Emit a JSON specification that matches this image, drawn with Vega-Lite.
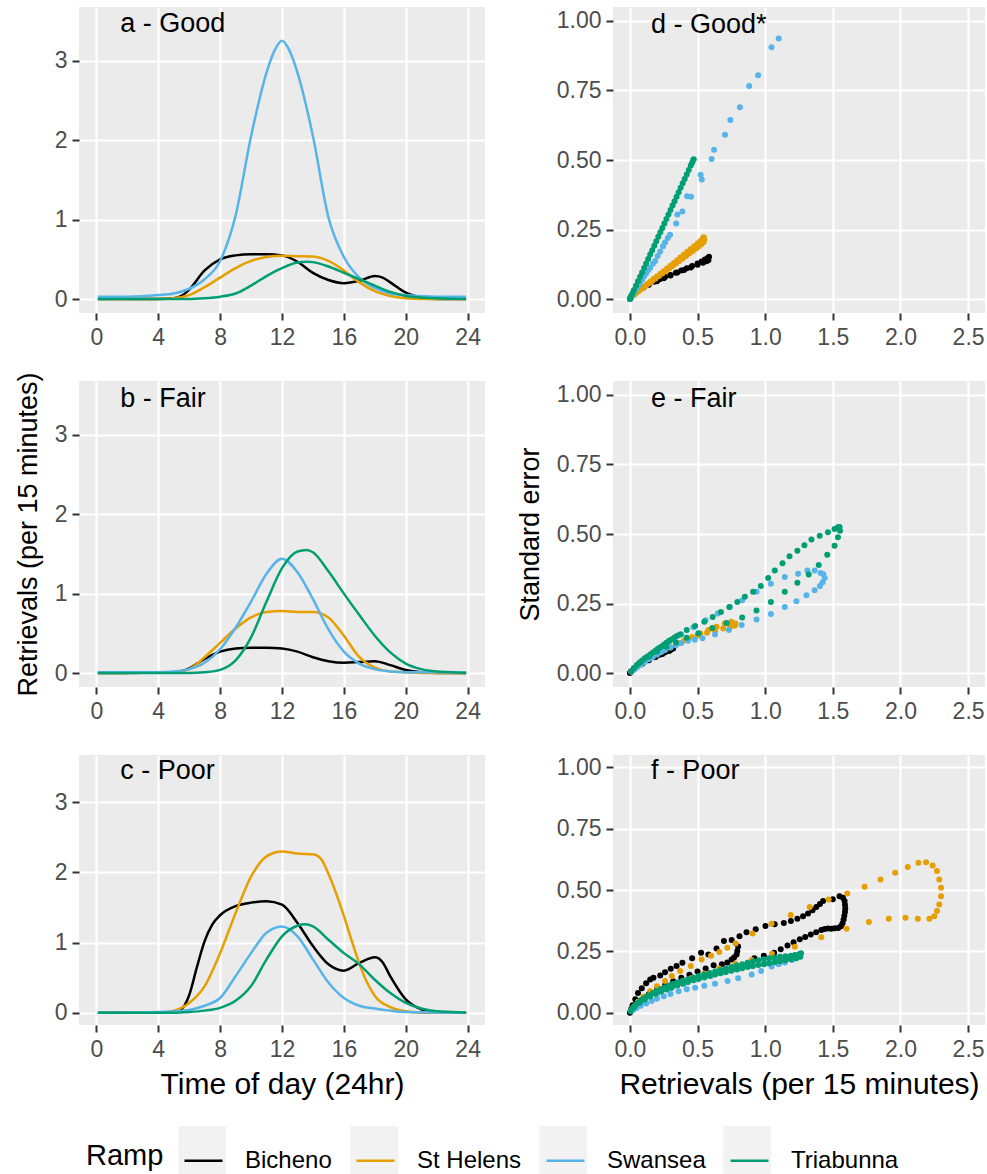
{
  "$schema": "https://vega.github.io/schema/vega-lite/v6.json",
  "padding": {"left": 14, "top": 7, "right": 2, "bottom": 0},
  "bounds": "flush",
  "align": "each",
  "columns": 2,
  "spacing": {"row": 68, "column": 128},
  "resolve": {"scale": {"color": "shared", "fill": "shared", "x": "independent", "y": "independent"}, "legend": {"color": "shared", "fill": "shared"}},
  "config": {
    "font": "Liberation Sans",
    "view": {"fill": "#EBEBEB", "stroke": null},
    "axis": {"domain": false, "tickSize": 7, "tickWidth": 2, "tickColor": "#333333", "labelFont": "Liberation Sans", "labelFontSize": 23, "labelColor": "#4D4D4D", "gridColor": "#FFFFFF", "titleFont": "Liberation Sans", "titleFontWeight": "normal", "titleColor": "#000000", "labelFlush": false, "labelOverlap": false},
    "axisX": {"labelPadding": 6, "titleFontSize": 30, "titlePadding": 8},
    "axisY": {"labelPadding": 5, "titleFontSize": 27, "titlePadding": 12},
    "legend": {"labelFont": "Liberation Sans", "titleFont": "Liberation Sans"}
  },
  "datasets": {
    "lines": [
      {"p":"a","r":"Bicheno","h":0.1,"v":0},{"p":"a","r":"Bicheno","h":3,"v":0},{"p":"a","r":"Bicheno","h":4,"v":0},{"p":"a","r":"Bicheno","h":5,"v":0.01},{"p":"a","r":"Bicheno","h":5.5,"v":0.04},{"p":"a","r":"Bicheno","h":6,"v":0.12},{"p":"a","r":"Bicheno","h":7,"v":0.36},{"p":"a","r":"Bicheno","h":8,"v":0.5},{"p":"a","r":"Bicheno","h":9,"v":0.55},{"p":"a","r":"Bicheno","h":10,"v":0.565},{"p":"a","r":"Bicheno","h":11,"v":0.565},{"p":"a","r":"Bicheno","h":12,"v":0.55},{"p":"a","r":"Bicheno","h":13,"v":0.47},{"p":"a","r":"Bicheno","h":14,"v":0.33},{"p":"a","r":"Bicheno","h":15,"v":0.24},{"p":"a","r":"Bicheno","h":16,"v":0.2},{"p":"a","r":"Bicheno","h":17,"v":0.23},{"p":"a","r":"Bicheno","h":18,"v":0.29},{"p":"a","r":"Bicheno","h":18.5,"v":0.27},{"p":"a","r":"Bicheno","h":19,"v":0.21},{"p":"a","r":"Bicheno","h":20,"v":0.08},{"p":"a","r":"Bicheno","h":21,"v":0.02},{"p":"a","r":"Bicheno","h":22,"v":0},{"p":"a","r":"Bicheno","h":23.9,"v":0},
      {"p":"a","r":"St Helens","h":0.1,"v":0},{"p":"a","r":"St Helens","h":4,"v":0},{"p":"a","r":"St Helens","h":5,"v":0.01},{"p":"a","r":"St Helens","h":6,"v":0.05},{"p":"a","r":"St Helens","h":7,"v":0.15},{"p":"a","r":"St Helens","h":8,"v":0.27},{"p":"a","r":"St Helens","h":9,"v":0.39},{"p":"a","r":"St Helens","h":10,"v":0.48},{"p":"a","r":"St Helens","h":11,"v":0.53},{"p":"a","r":"St Helens","h":12,"v":0.545},{"p":"a","r":"St Helens","h":13,"v":0.54},{"p":"a","r":"St Helens","h":14,"v":0.535},{"p":"a","r":"St Helens","h":15,"v":0.48},{"p":"a","r":"St Helens","h":16,"v":0.36},{"p":"a","r":"St Helens","h":17,"v":0.21},{"p":"a","r":"St Helens","h":18,"v":0.1},{"p":"a","r":"St Helens","h":19,"v":0.04},{"p":"a","r":"St Helens","h":20,"v":0.01},{"p":"a","r":"St Helens","h":21,"v":0},{"p":"a","r":"St Helens","h":23.9,"v":0},
      {"p":"a","r":"Swansea","h":0.1,"v":0.03},{"p":"a","r":"Swansea","h":2,"v":0.03},{"p":"a","r":"Swansea","h":4,"v":0.05},{"p":"a","r":"Swansea","h":5,"v":0.07},{"p":"a","r":"Swansea","h":6,"v":0.13},{"p":"a","r":"Swansea","h":7,"v":0.25},{"p":"a","r":"Swansea","h":8,"v":0.48},{"p":"a","r":"Swansea","h":9,"v":1.05},{"p":"a","r":"Swansea","h":10,"v":2.05},{"p":"a","r":"Swansea","h":11,"v":2.85},{"p":"a","r":"Swansea","h":11.5,"v":3.12},{"p":"a","r":"Swansea","h":12,"v":3.25},{"p":"a","r":"Swansea","h":12.5,"v":3.12},{"p":"a","r":"Swansea","h":13,"v":2.85},{"p":"a","r":"Swansea","h":14,"v":2.05},{"p":"a","r":"Swansea","h":15,"v":1.03},{"p":"a","r":"Swansea","h":16,"v":0.53},{"p":"a","r":"Swansea","h":17,"v":0.27},{"p":"a","r":"Swansea","h":18,"v":0.14},{"p":"a","r":"Swansea","h":19,"v":0.07},{"p":"a","r":"Swansea","h":20,"v":0.05},{"p":"a","r":"Swansea","h":22,"v":0.03},{"p":"a","r":"Swansea","h":23.9,"v":0.03},
      {"p":"a","r":"Triabunna","h":0.1,"v":0},{"p":"a","r":"Triabunna","h":6,"v":0},{"p":"a","r":"Triabunna","h":7,"v":0.01},{"p":"a","r":"Triabunna","h":8,"v":0.03},{"p":"a","r":"Triabunna","h":9,"v":0.07},{"p":"a","r":"Triabunna","h":10,"v":0.17},{"p":"a","r":"Triabunna","h":11,"v":0.29},{"p":"a","r":"Triabunna","h":12,"v":0.39},{"p":"a","r":"Triabunna","h":13,"v":0.46},{"p":"a","r":"Triabunna","h":13.6,"v":0.47},{"p":"a","r":"Triabunna","h":14,"v":0.465},{"p":"a","r":"Triabunna","h":15,"v":0.41},{"p":"a","r":"Triabunna","h":16,"v":0.33},{"p":"a","r":"Triabunna","h":17,"v":0.25},{"p":"a","r":"Triabunna","h":18,"v":0.17},{"p":"a","r":"Triabunna","h":19,"v":0.09},{"p":"a","r":"Triabunna","h":20,"v":0.04},{"p":"a","r":"Triabunna","h":21,"v":0.02},{"p":"a","r":"Triabunna","h":22,"v":0.01},{"p":"a","r":"Triabunna","h":23.9,"v":0},

      {"p":"b","r":"Bicheno","h":0.1,"v":0},{"p":"b","r":"Bicheno","h":5,"v":0.01},{"p":"b","r":"Bicheno","h":6,"v":0.06},{"p":"b","r":"Bicheno","h":7,"v":0.18},{"p":"b","r":"Bicheno","h":8,"v":0.27},{"p":"b","r":"Bicheno","h":9,"v":0.31},{"p":"b","r":"Bicheno","h":10,"v":0.32},{"p":"b","r":"Bicheno","h":11,"v":0.32},{"p":"b","r":"Bicheno","h":12,"v":0.31},{"p":"b","r":"Bicheno","h":13,"v":0.27},{"p":"b","r":"Bicheno","h":14,"v":0.2},{"p":"b","r":"Bicheno","h":15,"v":0.15},{"p":"b","r":"Bicheno","h":16,"v":0.13},{"p":"b","r":"Bicheno","h":17,"v":0.14},{"p":"b","r":"Bicheno","h":18,"v":0.15},{"p":"b","r":"Bicheno","h":19,"v":0.1},{"p":"b","r":"Bicheno","h":20,"v":0.04},{"p":"b","r":"Bicheno","h":21,"v":0.01},{"p":"b","r":"Bicheno","h":22,"v":0},{"p":"b","r":"Bicheno","h":23.9,"v":0},
      {"p":"b","r":"St Helens","h":0.1,"v":0},{"p":"b","r":"St Helens","h":5,"v":0.01},{"p":"b","r":"St Helens","h":6,"v":0.05},{"p":"b","r":"St Helens","h":7,"v":0.2},{"p":"b","r":"St Helens","h":8,"v":0.38},{"p":"b","r":"St Helens","h":9,"v":0.56},{"p":"b","r":"St Helens","h":10,"v":0.7},{"p":"b","r":"St Helens","h":11,"v":0.77},{"p":"b","r":"St Helens","h":12,"v":0.78},{"p":"b","r":"St Helens","h":13,"v":0.77},{"p":"b","r":"St Helens","h":14,"v":0.77},{"p":"b","r":"St Helens","h":15,"v":0.7},{"p":"b","r":"St Helens","h":16,"v":0.47},{"p":"b","r":"St Helens","h":17,"v":0.2},{"p":"b","r":"St Helens","h":18,"v":0.07},{"p":"b","r":"St Helens","h":19,"v":0.02},{"p":"b","r":"St Helens","h":20,"v":0.01},{"p":"b","r":"St Helens","h":21,"v":0},{"p":"b","r":"St Helens","h":23.9,"v":0},
      {"p":"b","r":"Swansea","h":0.1,"v":0.01},{"p":"b","r":"Swansea","h":4,"v":0.01},{"p":"b","r":"Swansea","h":5,"v":0.02},{"p":"b","r":"Swansea","h":6,"v":0.05},{"p":"b","r":"Swansea","h":7,"v":0.13},{"p":"b","r":"Swansea","h":8,"v":0.3},{"p":"b","r":"Swansea","h":9,"v":0.57},{"p":"b","r":"Swansea","h":10,"v":0.9},{"p":"b","r":"Swansea","h":11,"v":1.25},{"p":"b","r":"Swansea","h":12,"v":1.44},{"p":"b","r":"Swansea","h":13,"v":1.27},{"p":"b","r":"Swansea","h":14,"v":0.93},{"p":"b","r":"Swansea","h":15,"v":0.55},{"p":"b","r":"Swansea","h":16,"v":0.27},{"p":"b","r":"Swansea","h":17,"v":0.12},{"p":"b","r":"Swansea","h":18,"v":0.05},{"p":"b","r":"Swansea","h":19,"v":0.02},{"p":"b","r":"Swansea","h":20,"v":0.01},{"p":"b","r":"Swansea","h":23.9,"v":0.01},
      {"p":"b","r":"Triabunna","h":0.1,"v":0},{"p":"b","r":"Triabunna","h":6,"v":0},{"p":"b","r":"Triabunna","h":7,"v":0.01},{"p":"b","r":"Triabunna","h":8,"v":0.04},{"p":"b","r":"Triabunna","h":9,"v":0.16},{"p":"b","r":"Triabunna","h":10,"v":0.45},{"p":"b","r":"Triabunna","h":11,"v":0.9},{"p":"b","r":"Triabunna","h":12,"v":1.32},{"p":"b","r":"Triabunna","h":13,"v":1.53},{"p":"b","r":"Triabunna","h":13.6,"v":1.55},{"p":"b","r":"Triabunna","h":14,"v":1.52},{"p":"b","r":"Triabunna","h":15,"v":1.28},{"p":"b","r":"Triabunna","h":16,"v":1.0},{"p":"b","r":"Triabunna","h":17,"v":0.73},{"p":"b","r":"Triabunna","h":18,"v":0.47},{"p":"b","r":"Triabunna","h":19,"v":0.26},{"p":"b","r":"Triabunna","h":20,"v":0.12},{"p":"b","r":"Triabunna","h":21,"v":0.05},{"p":"b","r":"Triabunna","h":22,"v":0.02},{"p":"b","r":"Triabunna","h":23,"v":0.01},{"p":"b","r":"Triabunna","h":23.9,"v":0},

      {"p":"c","r":"Bicheno","h":0.1,"v":0},{"p":"c","r":"Bicheno","h":4,"v":0},{"p":"c","r":"Bicheno","h":5,"v":0.01},{"p":"c","r":"Bicheno","h":5.5,"v":0.05},{"p":"c","r":"Bicheno","h":6,"v":0.25},{"p":"c","r":"Bicheno","h":6.5,"v":0.65},{"p":"c","r":"Bicheno","h":7,"v":1.02},{"p":"c","r":"Bicheno","h":7.5,"v":1.26},{"p":"c","r":"Bicheno","h":8,"v":1.39},{"p":"c","r":"Bicheno","h":9,"v":1.52},{"p":"c","r":"Bicheno","h":10,"v":1.57},{"p":"c","r":"Bicheno","h":11,"v":1.59},{"p":"c","r":"Bicheno","h":12,"v":1.54},{"p":"c","r":"Bicheno","h":13,"v":1.28},{"p":"c","r":"Bicheno","h":14,"v":0.95},{"p":"c","r":"Bicheno","h":15,"v":0.69},{"p":"c","r":"Bicheno","h":16,"v":0.6},{"p":"c","r":"Bicheno","h":17,"v":0.71},{"p":"c","r":"Bicheno","h":18,"v":0.79},{"p":"c","r":"Bicheno","h":18.5,"v":0.72},{"p":"c","r":"Bicheno","h":19,"v":0.52},{"p":"c","r":"Bicheno","h":20,"v":0.19},{"p":"c","r":"Bicheno","h":21,"v":0.05},{"p":"c","r":"Bicheno","h":22,"v":0.01},{"p":"c","r":"Bicheno","h":23.9,"v":0},
      {"p":"c","r":"St Helens","h":0.1,"v":0},{"p":"c","r":"St Helens","h":4,"v":0},{"p":"c","r":"St Helens","h":5,"v":0.03},{"p":"c","r":"St Helens","h":6,"v":0.14},{"p":"c","r":"St Helens","h":7,"v":0.38},{"p":"c","r":"St Helens","h":8,"v":0.85},{"p":"c","r":"St Helens","h":9,"v":1.42},{"p":"c","r":"St Helens","h":10,"v":1.94},{"p":"c","r":"St Helens","h":11,"v":2.23},{"p":"c","r":"St Helens","h":12,"v":2.3},{"p":"c","r":"St Helens","h":13,"v":2.27},{"p":"c","r":"St Helens","h":14,"v":2.26},{"p":"c","r":"St Helens","h":14.5,"v":2.2},{"p":"c","r":"St Helens","h":15,"v":1.98},{"p":"c","r":"St Helens","h":15.5,"v":1.7},{"p":"c","r":"St Helens","h":16,"v":1.38},{"p":"c","r":"St Helens","h":16.5,"v":1.03},{"p":"c","r":"St Helens","h":17,"v":0.7},{"p":"c","r":"St Helens","h":17.5,"v":0.43},{"p":"c","r":"St Helens","h":18,"v":0.24},{"p":"c","r":"St Helens","h":19,"v":0.08},{"p":"c","r":"St Helens","h":20,"v":0.02},{"p":"c","r":"St Helens","h":21,"v":0},{"p":"c","r":"St Helens","h":23.9,"v":0},
      {"p":"c","r":"Swansea","h":0.1,"v":0},{"p":"c","r":"Swansea","h":4,"v":0.01},{"p":"c","r":"Swansea","h":5,"v":0.02},{"p":"c","r":"Swansea","h":6,"v":0.04},{"p":"c","r":"Swansea","h":7,"v":0.1},{"p":"c","r":"Swansea","h":8,"v":0.21},{"p":"c","r":"Swansea","h":9,"v":0.52},{"p":"c","r":"Swansea","h":10,"v":0.85},{"p":"c","r":"Swansea","h":11,"v":1.14},{"p":"c","r":"Swansea","h":12,"v":1.23},{"p":"c","r":"Swansea","h":13,"v":1.09},{"p":"c","r":"Swansea","h":14,"v":0.76},{"p":"c","r":"Swansea","h":15,"v":0.43},{"p":"c","r":"Swansea","h":16,"v":0.21},{"p":"c","r":"Swansea","h":17,"v":0.1},{"p":"c","r":"Swansea","h":18,"v":0.06},{"p":"c","r":"Swansea","h":19,"v":0.03},{"p":"c","r":"Swansea","h":20,"v":0.01},{"p":"c","r":"Swansea","h":23.9,"v":0},
      {"p":"c","r":"Triabunna","h":0.1,"v":0},{"p":"c","r":"Triabunna","h":5,"v":0},{"p":"c","r":"Triabunna","h":6,"v":0.01},{"p":"c","r":"Triabunna","h":7,"v":0.03},{"p":"c","r":"Triabunna","h":8,"v":0.07},{"p":"c","r":"Triabunna","h":9,"v":0.17},{"p":"c","r":"Triabunna","h":10,"v":0.38},{"p":"c","r":"Triabunna","h":11,"v":0.76},{"p":"c","r":"Triabunna","h":12,"v":1.09},{"p":"c","r":"Triabunna","h":13,"v":1.24},{"p":"c","r":"Triabunna","h":13.5,"v":1.26},{"p":"c","r":"Triabunna","h":14,"v":1.23},{"p":"c","r":"Triabunna","h":15,"v":1.04},{"p":"c","r":"Triabunna","h":16,"v":0.85},{"p":"c","r":"Triabunna","h":17,"v":0.69},{"p":"c","r":"Triabunna","h":18,"v":0.47},{"p":"c","r":"Triabunna","h":19,"v":0.28},{"p":"c","r":"Triabunna","h":20,"v":0.14},{"p":"c","r":"Triabunna","h":21,"v":0.06},{"p":"c","r":"Triabunna","h":22,"v":0.02},{"p":"c","r":"Triabunna","h":23,"v":0.01},{"p":"c","r":"Triabunna","h":23.9,"v":0}
    ],
    "pts": [
      {"p":"d","r":"Bicheno","x":0,"y":0},{"p":"d","r":"Bicheno","x":0.01,"y":0.008},{"p":"d","r":"Bicheno","x":0.03,"y":0.018},{"p":"d","r":"Bicheno","x":0.06,"y":0.03},{"p":"d","r":"Bicheno","x":0.1,"y":0.042},{"p":"d","r":"Bicheno","x":0.14,"y":0.052},{"p":"d","r":"Bicheno","x":0.18,"y":0.062},{"p":"d","r":"Bicheno","x":0.22,"y":0.071},{"p":"d","r":"Bicheno","x":0.26,"y":0.079},{"p":"d","r":"Bicheno","x":0.3,"y":0.087},{"p":"d","r":"Bicheno","x":0.34,"y":0.095},{"p":"d","r":"Bicheno","x":0.38,"y":0.103},{"p":"d","r":"Bicheno","x":0.42,"y":0.111},{"p":"d","r":"Bicheno","x":0.46,"y":0.119},{"p":"d","r":"Bicheno","x":0.5,"y":0.128},{"p":"d","r":"Bicheno","x":0.53,"y":0.135},{"p":"d","r":"Bicheno","x":0.555,"y":0.142},{"p":"d","r":"Bicheno","x":0.575,"y":0.148},{"p":"d","r":"Bicheno","x":0.585,"y":0.152},{"p":"d","r":"Bicheno","x":0.58,"y":0.14},{"p":"d","r":"Bicheno","x":0.565,"y":0.136},{"p":"d","r":"Bicheno","x":0.54,"y":0.131},{"p":"d","r":"Bicheno","x":0.5,"y":0.123},{"p":"d","r":"Bicheno","x":0.45,"y":0.114},{"p":"d","r":"Bicheno","x":0.4,"y":0.105},{"p":"d","r":"Bicheno","x":0.35,"y":0.096},{"p":"d","r":"Bicheno","x":0.3,"y":0.085},{"p":"d","r":"Bicheno","x":0.25,"y":0.075},{"p":"d","r":"Bicheno","x":0.2,"y":0.064},
      {"p":"d","r":"St Helens","x":0.01,"y":0.006},{"p":"d","r":"St Helens","x":0.03,"y":0.015},{"p":"d","r":"St Helens","x":0.05,"y":0.024},{"p":"d","r":"St Helens","x":0.075,"y":0.034},{"p":"d","r":"St Helens","x":0.1,"y":0.043},{"p":"d","r":"St Helens","x":0.125,"y":0.053},{"p":"d","r":"St Helens","x":0.15,"y":0.062},{"p":"d","r":"St Helens","x":0.175,"y":0.072},{"p":"d","r":"St Helens","x":0.2,"y":0.081},{"p":"d","r":"St Helens","x":0.225,"y":0.091},{"p":"d","r":"St Helens","x":0.25,"y":0.1},{"p":"d","r":"St Helens","x":0.275,"y":0.11},{"p":"d","r":"St Helens","x":0.3,"y":0.12},{"p":"d","r":"St Helens","x":0.325,"y":0.13},{"p":"d","r":"St Helens","x":0.35,"y":0.14},{"p":"d","r":"St Helens","x":0.375,"y":0.15},{"p":"d","r":"St Helens","x":0.4,"y":0.16},{"p":"d","r":"St Helens","x":0.425,"y":0.17},{"p":"d","r":"St Helens","x":0.45,"y":0.18},{"p":"d","r":"St Helens","x":0.475,"y":0.19},{"p":"d","r":"St Helens","x":0.5,"y":0.2},{"p":"d","r":"St Helens","x":0.52,"y":0.208},{"p":"d","r":"St Helens","x":0.535,"y":0.215},{"p":"d","r":"St Helens","x":0.545,"y":0.222},{"p":"d","r":"St Helens","x":0.55,"y":0.215},{"p":"d","r":"St Helens","x":0.545,"y":0.205},{"p":"d","r":"St Helens","x":0.53,"y":0.198},{"p":"d","r":"St Helens","x":0.51,"y":0.19},{"p":"d","r":"St Helens","x":0.49,"y":0.182},{"p":"d","r":"St Helens","x":0.465,"y":0.173},{"p":"d","r":"St Helens","x":0.44,"y":0.164},{"p":"d","r":"St Helens","x":0.415,"y":0.155},{"p":"d","r":"St Helens","x":0.39,"y":0.146},{"p":"d","r":"St Helens","x":0.365,"y":0.137},{"p":"d","r":"St Helens","x":0.34,"y":0.128},{"p":"d","r":"St Helens","x":0.315,"y":0.119},{"p":"d","r":"St Helens","x":0.29,"y":0.11},{"p":"d","r":"St Helens","x":0.265,"y":0.101},{"p":"d","r":"St Helens","x":0.24,"y":0.092},{"p":"d","r":"St Helens","x":0.215,"y":0.083},{"p":"d","r":"St Helens","x":0.19,"y":0.074},{"p":"d","r":"St Helens","x":0.165,"y":0.065},{"p":"d","r":"St Helens","x":0.14,"y":0.056},{"p":"d","r":"St Helens","x":0.115,"y":0.047},{"p":"d","r":"St Helens","x":0.09,"y":0.038},{"p":"d","r":"St Helens","x":0.065,"y":0.029},{"p":"d","r":"St Helens","x":0.04,"y":0.02},
      {"p":"d","r":"Swansea","x":0,"y":0},{"p":"d","r":"Swansea","x":0.01,"y":0.008},{"p":"d","r":"Swansea","x":0.02,"y":0.016},{"p":"d","r":"Swansea","x":0.03,"y":0.024},{"p":"d","r":"Swansea","x":0.04,"y":0.032},{"p":"d","r":"Swansea","x":0.05,"y":0.04},{"p":"d","r":"Swansea","x":0.06,"y":0.048},{"p":"d","r":"Swansea","x":0.075,"y":0.058},{"p":"d","r":"Swansea","x":0.09,"y":0.07},{"p":"d","r":"Swansea","x":0.105,"y":0.082},{"p":"d","r":"Swansea","x":0.12,"y":0.093},{"p":"d","r":"Swansea","x":0.135,"y":0.104},{"p":"d","r":"Swansea","x":0.15,"y":0.113},{"p":"d","r":"Swansea","x":0.17,"y":0.127},{"p":"d","r":"Swansea","x":0.187,"y":0.137},{"p":"d","r":"Swansea","x":0.205,"y":0.155},{"p":"d","r":"Swansea","x":0.224,"y":0.171},{"p":"d","r":"Swansea","x":0.245,"y":0.19},{"p":"d","r":"Swansea","x":0.26,"y":0.203},{"p":"d","r":"Swansea","x":0.28,"y":0.22},{"p":"d","r":"Swansea","x":0.297,"y":0.231},{"p":"d","r":"Swansea","x":0.342,"y":0.272},{"p":"d","r":"Swansea","x":0.351,"y":0.304},{"p":"d","r":"Swansea","x":0.388,"y":0.315},{"p":"d","r":"Swansea","x":0.423,"y":0.37},{"p":"d","r":"Swansea","x":0.452,"y":0.368},{"p":"d","r":"Swansea","x":0.523,"y":0.447},{"p":"d","r":"Swansea","x":0.531,"y":0.43},{"p":"d","r":"Swansea","x":0.604,"y":0.504},{"p":"d","r":"Swansea","x":0.622,"y":0.537},{"p":"d","r":"Swansea","x":0.703,"y":0.591},{"p":"d","r":"Swansea","x":0.742,"y":0.644},{"p":"d","r":"Swansea","x":0.813,"y":0.69},{"p":"d","r":"Swansea","x":0.882,"y":0.766},{"p":"d","r":"Swansea","x":0.948,"y":0.805},{"p":"d","r":"Swansea","x":1.047,"y":0.905},{"p":"d","r":"Swansea","x":1.1,"y":0.937},
      {"p":"d","r":"Triabunna","x":0,"y":0},{"p":"d","r":"Triabunna","x":0.005,"y":0.006},{"p":"d","r":"Triabunna","x":0.01,"y":0.012},{"p":"d","r":"Triabunna","x":0.02,"y":0.022},{"p":"d","r":"Triabunna","x":0.03,"y":0.033},{"p":"d","r":"Triabunna","x":0.045,"y":0.048},{"p":"d","r":"Triabunna","x":0.06,"y":0.064},{"p":"d","r":"Triabunna","x":0.075,"y":0.08},{"p":"d","r":"Triabunna","x":0.09,"y":0.096},{"p":"d","r":"Triabunna","x":0.105,"y":0.112},{"p":"d","r":"Triabunna","x":0.12,"y":0.128},{"p":"d","r":"Triabunna","x":0.135,"y":0.144},{"p":"d","r":"Triabunna","x":0.15,"y":0.16},{"p":"d","r":"Triabunna","x":0.165,"y":0.176},{"p":"d","r":"Triabunna","x":0.18,"y":0.192},{"p":"d","r":"Triabunna","x":0.195,"y":0.208},{"p":"d","r":"Triabunna","x":0.21,"y":0.224},{"p":"d","r":"Triabunna","x":0.225,"y":0.24},{"p":"d","r":"Triabunna","x":0.24,"y":0.256},{"p":"d","r":"Triabunna","x":0.255,"y":0.272},{"p":"d","r":"Triabunna","x":0.27,"y":0.288},{"p":"d","r":"Triabunna","x":0.285,"y":0.304},{"p":"d","r":"Triabunna","x":0.3,"y":0.32},{"p":"d","r":"Triabunna","x":0.315,"y":0.336},{"p":"d","r":"Triabunna","x":0.33,"y":0.352},{"p":"d","r":"Triabunna","x":0.345,"y":0.368},{"p":"d","r":"Triabunna","x":0.36,"y":0.384},{"p":"d","r":"Triabunna","x":0.375,"y":0.4},{"p":"d","r":"Triabunna","x":0.39,"y":0.416},{"p":"d","r":"Triabunna","x":0.405,"y":0.432},{"p":"d","r":"Triabunna","x":0.42,"y":0.448},{"p":"d","r":"Triabunna","x":0.435,"y":0.464},{"p":"d","r":"Triabunna","x":0.45,"y":0.48},{"p":"d","r":"Triabunna","x":0.46,"y":0.49},{"p":"d","r":"Triabunna","x":0.468,"y":0.5},{"p":"d","r":"Triabunna","x":0.472,"y":0.503},

      {"p":"e","r":"Bicheno","x":0,"y":0},{"p":"e","r":"Bicheno","x":0.01,"y":0.007},{"p":"e","r":"Bicheno","x":0.03,"y":0.016},{"p":"e","r":"Bicheno","x":0.06,"y":0.027},{"p":"e","r":"Bicheno","x":0.1,"y":0.038},{"p":"e","r":"Bicheno","x":0.14,"y":0.048},{"p":"e","r":"Bicheno","x":0.18,"y":0.057},{"p":"e","r":"Bicheno","x":0.22,"y":0.066},{"p":"e","r":"Bicheno","x":0.26,"y":0.075},{"p":"e","r":"Bicheno","x":0.3,"y":0.083},{"p":"e","r":"Bicheno","x":0.32,"y":0.088},{"p":"e","r":"Bicheno","x":0.29,"y":0.079},{"p":"e","r":"Bicheno","x":0.24,"y":0.069},{"p":"e","r":"Bicheno","x":0.19,"y":0.058},{"p":"e","r":"Bicheno","x":0.14,"y":0.046},{"p":"e","r":"Bicheno","x":0.09,"y":0.034},{"p":"e","r":"Bicheno","x":0.05,"y":0.022},
      {"p":"e","r":"St Helens","x":0.01,"y":0.006},{"p":"e","r":"St Helens","x":0.03,"y":0.014},{"p":"e","r":"St Helens","x":0.06,"y":0.026},{"p":"e","r":"St Helens","x":0.1,"y":0.039},{"p":"e","r":"St Helens","x":0.15,"y":0.054},{"p":"e","r":"St Helens","x":0.2,"y":0.068},{"p":"e","r":"St Helens","x":0.25,"y":0.081},{"p":"e","r":"St Helens","x":0.3,"y":0.093},{"p":"e","r":"St Helens","x":0.35,"y":0.105},{"p":"e","r":"St Helens","x":0.4,"y":0.117},{"p":"e","r":"St Helens","x":0.46,"y":0.13},{"p":"e","r":"St Helens","x":0.52,"y":0.142},{"p":"e","r":"St Helens","x":0.58,"y":0.155},{"p":"e","r":"St Helens","x":0.64,"y":0.167},{"p":"e","r":"St Helens","x":0.7,"y":0.178},{"p":"e","r":"St Helens","x":0.75,"y":0.185},{"p":"e","r":"St Helens","x":0.78,"y":0.178},{"p":"e","r":"St Helens","x":0.775,"y":0.17},{"p":"e","r":"St Helens","x":0.74,"y":0.166},{"p":"e","r":"St Helens","x":0.69,"y":0.16},{"p":"e","r":"St Helens","x":0.63,"y":0.152},{"p":"e","r":"St Helens","x":0.57,"y":0.145},{"p":"e","r":"St Helens","x":0.5,"y":0.135},{"p":"e","r":"St Helens","x":0.43,"y":0.122},{"p":"e","r":"St Helens","x":0.36,"y":0.108},{"p":"e","r":"St Helens","x":0.29,"y":0.092},{"p":"e","r":"St Helens","x":0.22,"y":0.074},{"p":"e","r":"St Helens","x":0.15,"y":0.055},{"p":"e","r":"St Helens","x":0.08,"y":0.033},
      {"p":"e","r":"Swansea","x":0.01,"y":0.005},{"p":"e","r":"Swansea","x":0.03,"y":0.012},{"p":"e","r":"Swansea","x":0.05,"y":0.02},{"p":"e","r":"Swansea","x":0.08,"y":0.03},{"p":"e","r":"Swansea","x":0.11,"y":0.04},{"p":"e","r":"Swansea","x":0.14,"y":0.05},{"p":"e","r":"Swansea","x":0.17,"y":0.058},{"p":"e","r":"Swansea","x":0.2,"y":0.067},{"p":"e","r":"Swansea","x":0.23,"y":0.075},{"p":"e","r":"Swansea","x":0.26,"y":0.083},{"p":"e","r":"Swansea","x":0.3,"y":0.092},{"p":"e","r":"Swansea","x":0.34,"y":0.1},{"p":"e","r":"Swansea","x":0.38,"y":0.108},{"p":"e","r":"Swansea","x":0.43,"y":0.116},{"p":"e","r":"Swansea","x":0.48,"y":0.12},{"p":"e","r":"Swansea","x":0.536,"y":0.125},{"p":"e","r":"Swansea","x":0.629,"y":0.139},{"p":"e","r":"Swansea","x":0.732,"y":0.155},{"p":"e","r":"Swansea","x":0.826,"y":0.173},{"p":"e","r":"Swansea","x":0.936,"y":0.193},{"p":"e","r":"Swansea","x":1.042,"y":0.212},{"p":"e","r":"Swansea","x":1.145,"y":0.238},{"p":"e","r":"Swansea","x":1.231,"y":0.258},{"p":"e","r":"Swansea","x":1.305,"y":0.28},{"p":"e","r":"Swansea","x":1.366,"y":0.298},{"p":"e","r":"Swansea","x":1.405,"y":0.313},{"p":"e","r":"Swansea","x":1.425,"y":0.327},{"p":"e","r":"Swansea","x":1.44,"y":0.342},{"p":"e","r":"Swansea","x":1.43,"y":0.355},{"p":"e","r":"Swansea","x":1.41,"y":0.36},{"p":"e","r":"Swansea","x":1.366,"y":0.369},{"p":"e","r":"Swansea","x":1.312,"y":0.369},{"p":"e","r":"Swansea","x":1.243,"y":0.357},{"p":"e","r":"Swansea","x":1.145,"y":0.345},{"p":"e","r":"Swansea","x":1.042,"y":0.321},{"p":"e","r":"Swansea","x":0.936,"y":0.292},{"p":"e","r":"Swansea","x":0.83,"y":0.262},{"p":"e","r":"Swansea","x":0.74,"y":0.238},{"p":"e","r":"Swansea","x":0.65,"y":0.214},{"p":"e","r":"Swansea","x":0.56,"y":0.19},{"p":"e","r":"Swansea","x":0.47,"y":0.165},{"p":"e","r":"Swansea","x":0.38,"y":0.14},{"p":"e","r":"Swansea","x":0.29,"y":0.113},{"p":"e","r":"Swansea","x":0.2,"y":0.085},{"p":"e","r":"Swansea","x":0.12,"y":0.056},{"p":"e","r":"Swansea","x":0.06,"y":0.032},
      {"p":"e","r":"Triabunna","x":0.01,"y":0.007},{"p":"e","r":"Triabunna","x":0.03,"y":0.018},{"p":"e","r":"Triabunna","x":0.05,"y":0.028},{"p":"e","r":"Triabunna","x":0.07,"y":0.037},{"p":"e","r":"Triabunna","x":0.09,"y":0.045},{"p":"e","r":"Triabunna","x":0.11,"y":0.053},{"p":"e","r":"Triabunna","x":0.13,"y":0.06},{"p":"e","r":"Triabunna","x":0.15,"y":0.067},{"p":"e","r":"Triabunna","x":0.17,"y":0.074},{"p":"e","r":"Triabunna","x":0.19,"y":0.081},{"p":"e","r":"Triabunna","x":0.21,"y":0.088},{"p":"e","r":"Triabunna","x":0.23,"y":0.095},{"p":"e","r":"Triabunna","x":0.25,"y":0.102},{"p":"e","r":"Triabunna","x":0.27,"y":0.109},{"p":"e","r":"Triabunna","x":0.29,"y":0.116},{"p":"e","r":"Triabunna","x":0.31,"y":0.122},{"p":"e","r":"Triabunna","x":0.33,"y":0.128},{"p":"e","r":"Triabunna","x":0.35,"y":0.134},{"p":"e","r":"Triabunna","x":0.371,"y":0.139},{"p":"e","r":"Triabunna","x":0.42,"y":0.155},{"p":"e","r":"Triabunna","x":0.482,"y":0.169},{"p":"e","r":"Triabunna","x":0.55,"y":0.185},{"p":"e","r":"Triabunna","x":0.612,"y":0.202},{"p":"e","r":"Triabunna","x":0.673,"y":0.22},{"p":"e","r":"Triabunna","x":0.735,"y":0.238},{"p":"e","r":"Triabunna","x":0.794,"y":0.256},{"p":"e","r":"Triabunna","x":0.85,"y":0.274},{"p":"e","r":"Triabunna","x":0.911,"y":0.292},{"p":"e","r":"Triabunna","x":0.968,"y":0.313},{"p":"e","r":"Triabunna","x":1.022,"y":0.342},{"p":"e","r":"Triabunna","x":1.071,"y":0.369},{"p":"e","r":"Triabunna","x":1.128,"y":0.395},{"p":"e","r":"Triabunna","x":1.18,"y":0.42},{"p":"e","r":"Triabunna","x":1.238,"y":0.44},{"p":"e","r":"Triabunna","x":1.29,"y":0.46},{"p":"e","r":"Triabunna","x":1.342,"y":0.48},{"p":"e","r":"Triabunna","x":1.403,"y":0.494},{"p":"e","r":"Triabunna","x":1.464,"y":0.506},{"p":"e","r":"Triabunna","x":1.513,"y":0.518},{"p":"e","r":"Triabunna","x":1.538,"y":0.524},{"p":"e","r":"Triabunna","x":1.55,"y":0.525},{"p":"e","r":"Triabunna","x":1.553,"y":0.512},{"p":"e","r":"Triabunna","x":1.538,"y":0.488},{"p":"e","r":"Triabunna","x":1.513,"y":0.458},{"p":"e","r":"Triabunna","x":1.459,"y":0.425},{"p":"e","r":"Triabunna","x":1.396,"y":0.389},{"p":"e","r":"Triabunna","x":1.322,"y":0.354},{"p":"e","r":"Triabunna","x":1.238,"y":0.325},{"p":"e","r":"Triabunna","x":1.145,"y":0.292},{"p":"e","r":"Triabunna","x":1.042,"y":0.256},{"p":"e","r":"Triabunna","x":0.936,"y":0.225},{"p":"e","r":"Triabunna","x":0.83,"y":0.2},{"p":"e","r":"Triabunna","x":0.715,"y":0.18},{"p":"e","r":"Triabunna","x":0.609,"y":0.162},{"p":"e","r":"Triabunna","x":0.506,"y":0.143},{"p":"e","r":"Triabunna","x":0.42,"y":0.127},{"p":"e","r":"Triabunna","x":0.34,"y":0.11},{"p":"e","r":"Triabunna","x":0.27,"y":0.095},{"p":"e","r":"Triabunna","x":0.2,"y":0.078},{"p":"e","r":"Triabunna","x":0.14,"y":0.06},{"p":"e","r":"Triabunna","x":0.08,"y":0.04},

      {"p":"f","r":"Bicheno","x":0,"y":0},{"p":"f","r":"Bicheno","x":0.01,"y":0.015},{"p":"f","r":"Bicheno","x":0.02,"y":0.03},{"p":"f","r":"Bicheno","x":0.04,"y":0.055},{"p":"f","r":"Bicheno","x":0.06,"y":0.08},{"p":"f","r":"Bicheno","x":0.088,"y":0.1},{"p":"f","r":"Bicheno","x":0.12,"y":0.12},{"p":"f","r":"Bicheno","x":0.15,"y":0.135},{"p":"f","r":"Bicheno","x":0.174,"y":0.142},{"p":"f","r":"Bicheno","x":0.224,"y":0.152},{"p":"f","r":"Bicheno","x":0.26,"y":0.165},{"p":"f","r":"Bicheno","x":0.302,"y":0.179},{"p":"f","r":"Bicheno","x":0.345,"y":0.19},{"p":"f","r":"Bicheno","x":0.388,"y":0.204},{"p":"f","r":"Bicheno","x":0.46,"y":0.222},{"p":"f","r":"Bicheno","x":0.526,"y":0.244},{"p":"f","r":"Bicheno","x":0.58,"y":0.237},{"p":"f","r":"Bicheno","x":0.64,"y":0.262},{"p":"f","r":"Bicheno","x":0.695,"y":0.292},{"p":"f","r":"Bicheno","x":0.752,"y":0.296},{"p":"f","r":"Bicheno","x":0.81,"y":0.312},{"p":"f","r":"Bicheno","x":0.862,"y":0.328},{"p":"f","r":"Bicheno","x":0.93,"y":0.34},{"p":"f","r":"Bicheno","x":1.002,"y":0.353},{"p":"f","r":"Bicheno","x":1.07,"y":0.36},{"p":"f","r":"Bicheno","x":1.138,"y":0.366},{"p":"f","r":"Bicheno","x":1.19,"y":0.374},{"p":"f","r":"Bicheno","x":1.238,"y":0.383},{"p":"f","r":"Bicheno","x":1.28,"y":0.393},{"p":"f","r":"Bicheno","x":1.317,"y":0.404},{"p":"f","r":"Bicheno","x":1.35,"y":0.418},{"p":"f","r":"Bicheno","x":1.378,"y":0.431},{"p":"f","r":"Bicheno","x":1.405,"y":0.443},{"p":"f","r":"Bicheno","x":1.428,"y":0.455},{"p":"f","r":"Bicheno","x":1.5,"y":0.462},{"p":"f","r":"Bicheno","x":1.55,"y":0.475},{"p":"f","r":"Bicheno","x":1.575,"y":0.468},{"p":"f","r":"Bicheno","x":1.587,"y":0.455},{"p":"f","r":"Bicheno","x":1.59,"y":0.44},{"p":"f","r":"Bicheno","x":1.592,"y":0.425},{"p":"f","r":"Bicheno","x":1.59,"y":0.41},{"p":"f","r":"Bicheno","x":1.585,"y":0.395},{"p":"f","r":"Bicheno","x":1.58,"y":0.38},{"p":"f","r":"Bicheno","x":1.572,"y":0.365},{"p":"f","r":"Bicheno","x":1.56,"y":0.352},{"p":"f","r":"Bicheno","x":1.54,"y":0.345},{"p":"f","r":"Bicheno","x":1.513,"y":0.344},{"p":"f","r":"Bicheno","x":1.49,"y":0.342},{"p":"f","r":"Bicheno","x":1.464,"y":0.343},{"p":"f","r":"Bicheno","x":1.44,"y":0.341},{"p":"f","r":"Bicheno","x":1.415,"y":0.337},{"p":"f","r":"Bicheno","x":1.377,"y":0.328},{"p":"f","r":"Bicheno","x":1.337,"y":0.319},{"p":"f","r":"Bicheno","x":1.296,"y":0.309},{"p":"f","r":"Bicheno","x":1.256,"y":0.299},{"p":"f","r":"Bicheno","x":1.21,"y":0.287},{"p":"f","r":"Bicheno","x":1.165,"y":0.274},{"p":"f","r":"Bicheno","x":1.115,"y":0.259},{"p":"f","r":"Bicheno","x":1.066,"y":0.244},{"p":"f","r":"Bicheno","x":0.99,"y":0.232},{"p":"f","r":"Bicheno","x":0.92,"y":0.222},{"p":"f","r":"Bicheno","x":0.8,"y":0.27},{"p":"f","r":"Bicheno","x":0.794,"y":0.251},{"p":"f","r":"Bicheno","x":0.789,"y":0.237},{"p":"f","r":"Bicheno","x":0.77,"y":0.225},{"p":"f","r":"Bicheno","x":0.752,"y":0.217},{"p":"f","r":"Bicheno","x":0.72,"y":0.205},{"p":"f","r":"Bicheno","x":0.68,"y":0.197},{"p":"f","r":"Bicheno","x":0.619,"y":0.193},{"p":"f","r":"Bicheno","x":0.56,"y":0.18},{"p":"f","r":"Bicheno","x":0.5,"y":0.168},{"p":"f","r":"Bicheno","x":0.44,"y":0.155},{"p":"f","r":"Bicheno","x":0.38,"y":0.142},{"p":"f","r":"Bicheno","x":0.32,"y":0.128},{"p":"f","r":"Bicheno","x":0.26,"y":0.112},{"p":"f","r":"Bicheno","x":0.2,"y":0.095},{"p":"f","r":"Bicheno","x":0.14,"y":0.075},{"p":"f","r":"Bicheno","x":0.08,"y":0.05},{"p":"f","r":"Bicheno","x":0.04,"y":0.03},
      {"p":"f","r":"St Helens","x":0.01,"y":0.01},{"p":"f","r":"St Helens","x":0.03,"y":0.025},{"p":"f","r":"St Helens","x":0.06,"y":0.045},{"p":"f","r":"St Helens","x":0.1,"y":0.065},{"p":"f","r":"St Helens","x":0.15,"y":0.088},{"p":"f","r":"St Helens","x":0.2,"y":0.108},{"p":"f","r":"St Helens","x":0.26,"y":0.129},{"p":"f","r":"St Helens","x":0.31,"y":0.15},{"p":"f","r":"St Helens","x":0.371,"y":0.17},{"p":"f","r":"St Helens","x":0.45,"y":0.19},{"p":"f","r":"St Helens","x":0.53,"y":0.217},{"p":"f","r":"St Helens","x":0.6,"y":0.232},{"p":"f","r":"St Helens","x":0.661,"y":0.247},{"p":"f","r":"St Helens","x":0.72,"y":0.265},{"p":"f","r":"St Helens","x":0.781,"y":0.282},{"p":"f","r":"St Helens","x":0.907,"y":0.323},{"p":"f","r":"St Helens","x":1.047,"y":0.362},{"p":"f","r":"St Helens","x":1.189,"y":0.398},{"p":"f","r":"St Helens","x":1.329,"y":0.431},{"p":"f","r":"St Helens","x":1.469,"y":0.461},{"p":"f","r":"St Helens","x":1.607,"y":0.486},{"p":"f","r":"St Helens","x":1.735,"y":0.513},{"p":"f","r":"St Helens","x":1.853,"y":0.543},{"p":"f","r":"St Helens","x":1.961,"y":0.57},{"p":"f","r":"St Helens","x":2.054,"y":0.594},{"p":"f","r":"St Helens","x":2.133,"y":0.611},{"p":"f","r":"St Helens","x":2.189,"y":0.613},{"p":"f","r":"St Helens","x":2.238,"y":0.6},{"p":"f","r":"St Helens","x":2.27,"y":0.577},{"p":"f","r":"St Helens","x":2.287,"y":0.543},{"p":"f","r":"St Helens","x":2.3,"y":0.509},{"p":"f","r":"St Helens","x":2.3,"y":0.475},{"p":"f","r":"St Helens","x":2.287,"y":0.441},{"p":"f","r":"St Helens","x":2.27,"y":0.414},{"p":"f","r":"St Helens","x":2.25,"y":0.393},{"p":"f","r":"St Helens","x":2.214,"y":0.383},{"p":"f","r":"St Helens","x":2.128,"y":0.383},{"p":"f","r":"St Helens","x":2.037,"y":0.387},{"p":"f","r":"St Helens","x":1.914,"y":0.383},{"p":"f","r":"St Helens","x":1.767,"y":0.37},{"p":"f","r":"St Helens","x":1.602,"y":0.342},{"p":"f","r":"St Helens","x":1.415,"y":0.308},{"p":"f","r":"St Helens","x":1.219,"y":0.269},{"p":"f","r":"St Helens","x":1.05,"y":0.24},{"p":"f","r":"St Helens","x":0.9,"y":0.215},{"p":"f","r":"St Helens","x":0.78,"y":0.2},{"p":"f","r":"St Helens","x":0.66,"y":0.18},{"p":"f","r":"St Helens","x":0.55,"y":0.16},{"p":"f","r":"St Helens","x":0.45,"y":0.14},{"p":"f","r":"St Helens","x":0.35,"y":0.12},{"p":"f","r":"St Helens","x":0.25,"y":0.1},{"p":"f","r":"St Helens","x":0.15,"y":0.07},{"p":"f","r":"St Helens","x":0.08,"y":0.045},
      {"p":"f","r":"Swansea","x":0.01,"y":0.006},{"p":"f","r":"Swansea","x":0.03,"y":0.013},{"p":"f","r":"Swansea","x":0.05,"y":0.02},{"p":"f","r":"Swansea","x":0.08,"y":0.028},{"p":"f","r":"Swansea","x":0.12,"y":0.038},{"p":"f","r":"Swansea","x":0.16,"y":0.048},{"p":"f","r":"Swansea","x":0.2,"y":0.057},{"p":"f","r":"Swansea","x":0.25,"y":0.067},{"p":"f","r":"Swansea","x":0.3,"y":0.076},{"p":"f","r":"Swansea","x":0.36,"y":0.088},{"p":"f","r":"Swansea","x":0.42,"y":0.096},{"p":"f","r":"Swansea","x":0.482,"y":0.102},{"p":"f","r":"Swansea","x":0.55,"y":0.11},{"p":"f","r":"Swansea","x":0.629,"y":0.118},{"p":"f","r":"Swansea","x":0.722,"y":0.129},{"p":"f","r":"Swansea","x":0.8,"y":0.14},{"p":"f","r":"Swansea","x":0.9,"y":0.156},{"p":"f","r":"Swansea","x":0.97,"y":0.17},{"p":"f","r":"Swansea","x":1.047,"y":0.188},{"p":"f","r":"Swansea","x":1.1,"y":0.198},{"p":"f","r":"Swansea","x":1.145,"y":0.205},{"p":"f","r":"Swansea","x":1.2,"y":0.215},{"p":"f","r":"Swansea","x":1.243,"y":0.228},{"p":"f","r":"Swansea","x":1.22,"y":0.226},{"p":"f","r":"Swansea","x":1.15,"y":0.218},{"p":"f","r":"Swansea","x":1.08,"y":0.21},{"p":"f","r":"Swansea","x":1.0,"y":0.2},{"p":"f","r":"Swansea","x":0.9,"y":0.19},{"p":"f","r":"Swansea","x":0.8,"y":0.178},{"p":"f","r":"Swansea","x":0.7,"y":0.165},{"p":"f","r":"Swansea","x":0.6,"y":0.15},{"p":"f","r":"Swansea","x":0.5,"y":0.135},{"p":"f","r":"Swansea","x":0.4,"y":0.118},{"p":"f","r":"Swansea","x":0.3,"y":0.098},{"p":"f","r":"Swansea","x":0.2,"y":0.075},{"p":"f","r":"Swansea","x":0.1,"y":0.048},{"p":"f","r":"Swansea","x":0.05,"y":0.03},
      {"p":"f","r":"Triabunna","x":0.005,"y":0.006},{"p":"f","r":"Triabunna","x":0.02,"y":0.018},{"p":"f","r":"Triabunna","x":0.04,"y":0.03},{"p":"f","r":"Triabunna","x":0.06,"y":0.04},{"p":"f","r":"Triabunna","x":0.08,"y":0.05},{"p":"f","r":"Triabunna","x":0.1,"y":0.057},{"p":"f","r":"Triabunna","x":0.12,"y":0.064},{"p":"f","r":"Triabunna","x":0.14,"y":0.07},{"p":"f","r":"Triabunna","x":0.17,"y":0.08},{"p":"f","r":"Triabunna","x":0.2,"y":0.089},{"p":"f","r":"Triabunna","x":0.23,"y":0.097},{"p":"f","r":"Triabunna","x":0.26,"y":0.104},{"p":"f","r":"Triabunna","x":0.29,"y":0.111},{"p":"f","r":"Triabunna","x":0.32,"y":0.117},{"p":"f","r":"Triabunna","x":0.35,"y":0.123},{"p":"f","r":"Triabunna","x":0.39,"y":0.13},{"p":"f","r":"Triabunna","x":0.43,"y":0.137},{"p":"f","r":"Triabunna","x":0.47,"y":0.144},{"p":"f","r":"Triabunna","x":0.51,"y":0.15},{"p":"f","r":"Triabunna","x":0.55,"y":0.156},{"p":"f","r":"Triabunna","x":0.59,"y":0.162},{"p":"f","r":"Triabunna","x":0.63,"y":0.168},{"p":"f","r":"Triabunna","x":0.67,"y":0.174},{"p":"f","r":"Triabunna","x":0.71,"y":0.18},{"p":"f","r":"Triabunna","x":0.75,"y":0.186},{"p":"f","r":"Triabunna","x":0.79,"y":0.192},{"p":"f","r":"Triabunna","x":0.83,"y":0.198},{"p":"f","r":"Triabunna","x":0.87,"y":0.204},{"p":"f","r":"Triabunna","x":0.91,"y":0.209},{"p":"f","r":"Triabunna","x":0.95,"y":0.214},{"p":"f","r":"Triabunna","x":0.99,"y":0.218},{"p":"f","r":"Triabunna","x":1.03,"y":0.222},{"p":"f","r":"Triabunna","x":1.07,"y":0.225},{"p":"f","r":"Triabunna","x":1.11,"y":0.228},{"p":"f","r":"Triabunna","x":1.15,"y":0.23},{"p":"f","r":"Triabunna","x":1.19,"y":0.232},{"p":"f","r":"Triabunna","x":1.22,"y":0.235},{"p":"f","r":"Triabunna","x":1.25,"y":0.238},{"p":"f","r":"Triabunna","x":1.265,"y":0.242},{"p":"f","r":"Triabunna","x":1.26,"y":0.228},{"p":"f","r":"Triabunna","x":1.23,"y":0.222},{"p":"f","r":"Triabunna","x":1.19,"y":0.218},{"p":"f","r":"Triabunna","x":1.15,"y":0.214},{"p":"f","r":"Triabunna","x":1.11,"y":0.21},{"p":"f","r":"Triabunna","x":1.07,"y":0.206},{"p":"f","r":"Triabunna","x":1.03,"y":0.202},{"p":"f","r":"Triabunna","x":0.99,"y":0.198},{"p":"f","r":"Triabunna","x":0.95,"y":0.194},{"p":"f","r":"Triabunna","x":0.91,"y":0.19},{"p":"f","r":"Triabunna","x":0.87,"y":0.186},{"p":"f","r":"Triabunna","x":0.83,"y":0.181},{"p":"f","r":"Triabunna","x":0.79,"y":0.176},{"p":"f","r":"Triabunna","x":0.75,"y":0.171},{"p":"f","r":"Triabunna","x":0.71,"y":0.166},{"p":"f","r":"Triabunna","x":0.67,"y":0.161},{"p":"f","r":"Triabunna","x":0.63,"y":0.156},{"p":"f","r":"Triabunna","x":0.59,"y":0.15},{"p":"f","r":"Triabunna","x":0.55,"y":0.144},{"p":"f","r":"Triabunna","x":0.51,"y":0.138},{"p":"f","r":"Triabunna","x":0.47,"y":0.132},{"p":"f","r":"Triabunna","x":0.43,"y":0.125},{"p":"f","r":"Triabunna","x":0.39,"y":0.118},{"p":"f","r":"Triabunna","x":0.35,"y":0.111},{"p":"f","r":"Triabunna","x":0.31,"y":0.103},{"p":"f","r":"Triabunna","x":0.27,"y":0.095},{"p":"f","r":"Triabunna","x":0.23,"y":0.086},{"p":"f","r":"Triabunna","x":0.19,"y":0.077},{"p":"f","r":"Triabunna","x":0.15,"y":0.066},{"p":"f","r":"Triabunna","x":0.11,"y":0.054},{"p":"f","r":"Triabunna","x":0.07,"y":0.04},{"p":"f","r":"Triabunna","x":0.035,"y":0.025}
    ],
    "labels": [
      {"p":"a","x":1.55,"y":3.36,"t":"a - Good"},
      {"p":"b","x":1.55,"y":3.35,"t":"b - Fair"},
      {"p":"c","x":1.55,"y":3.33,"t":"c - Poor"},
      {"p":"d","x":0.155,"y":0.958,"t":"d - Good*"},
      {"p":"e","x":0.155,"y":0.958,"t":"e - Fair"},
      {"p":"f","x":0.155,"y":0.954,"t":"f - Poor"}
    ]
  },
  "concat": [
    {
      "width": 406, "height": 306,
      "layer": [
        {"data": {"name": "lines"}, "transform": [{"filter": "datum.p === 'none'"}],
         "mark": {"type": "point", "filled": true, "opacity": 1},
         "encoding": {
           "x": {"field": "h", "type": "quantitative", "title": null},
           "y": {"field": "v", "type": "quantitative", "title": null},
           "fill": {"field": "keybox", "type": "nominal", "scale": {"domain": ["Bicheno\u200b","St Helens\u200b","Swansea\u200b","Triabunna\u200b"], "range": ["#F2F2F2","#F2F2F2","#F2F2F2","#F2F2F2"]},
                    "legend": {"orient": "none", "legendX": 103, "legendY": 1119, "direction": "horizontal", "title": null, "labelFontSize": 24, "labelColor": "transparent", "labelOffset": -6.5, "columnPadding": 19, "symbolType": "M-1.11,-1H0.3V1H-1.11Z", "symbolSize": 4624, "symbolStrokeWidth": 0, "symbolOpacity": 1, "padding": 0, "zindex": 1}}
         }},
        {"data": {"name": "lines"}, "transform": [{"filter": "datum.p === 'a'"}],
         "mark": {"type": "line", "strokeWidth": 2.5, "interpolate": "monotone"},
         "encoding": {
           "x": {"field": "h", "type": "quantitative", "scale": {"domain": [-1.12, 25.12], "nice": false, "zero": false},
                 "axis": {"title": null, "values": [0,2,4,6,8,10,12,14,16,18,20,22,24], "format": "d", "labelExpr": "datum.value % 4 === 0 ? datum.label : ''", "gridWidth": {"condition": {"test": "datum.value % 4 === 0", "value": 2.2}, "value": 1.1}, "tickOpacity": {"condition": {"test": "datum.value % 4 === 0", "value": 1}, "value": 0}}},
           "y": {"field": "v", "type": "quantitative", "scale": {"domain": [-0.175, 3.675], "nice": false, "zero": false},
                 "axis": {"title": null, "values": [0,0.5,1,1.5,2,2.5,3,3.5], "format": "d", "labelExpr": "datum.value % 1 === 0 ? datum.label : ''", "gridWidth": {"condition": {"test": "datum.value % 1 === 0", "value": 2.2}, "value": 1.1}, "tickOpacity": {"condition": {"test": "datum.value % 1 === 0", "value": 1}, "value": 0}}},
           "color": {"field": "r", "type": "nominal", "scale": {"domain": ["Bicheno","St Helens","Swansea","Triabunna"], "range": ["#000000","#E69F00","#56B4E9","#009E73"]},
                     "legend": {"orient": "none", "legendX": 7, "legendY": 1133, "direction": "horizontal", "title": "Ramp", "titleOrient": "left", "titleFontSize": 29, "titleFontWeight": "normal", "titleColor": "#000000", "titlePadding": 19, "labelFontSize": 24, "labelColor": "#000000", "labelOffset": 21, "columnPadding": 19, "symbolType": "stroke", "symbolSize": 1444, "symbolStrokeWidth": 2.5, "padding": 0, "zindex": 2}}
         }},
        {"data": {"name": "labels"}, "transform": [{"filter": "datum.p === 'a'"}],
         "mark": {"type": "text", "align": "left", "baseline": "alphabetic", "fontSize": 27, "color": "#000000"},
         "encoding": {"x": {"field": "x", "type": "quantitative", "title": null}, "y": {"field": "y", "type": "quantitative", "title": null}, "text": {"field": "t"}}}
      ]
    },
    {
      "width": 372, "height": 306,
      "layer": [
        {"data": {"name": "pts"}, "transform": [{"filter": "datum.p === 'd'"}],
         "mark": {"type": "circle", "size": 36, "opacity": 1},
         "encoding": {
           "x": {"field": "x", "type": "quantitative", "scale": {"domain": [-0.125, 2.625], "nice": false, "zero": false},
                 "axis": {"title": null, "values": [0,0.25,0.5,0.75,1,1.25,1.5,1.75,2,2.25,2.5], "format": ".1f", "labelExpr": "round(datum.value*4) % 2 === 0 ? datum.label : ''", "gridWidth": {"condition": {"test": "round(datum.value*4) % 2 === 0", "value": 2.2}, "value": 1.1}, "tickOpacity": {"condition": {"test": "round(datum.value*4) % 2 === 0", "value": 1}, "value": 0}}},
           "y": {"field": "y", "type": "quantitative", "scale": {"domain": [-0.05, 1.05], "nice": false, "zero": false},
                 "axis": {"title": null, "values": [0,0.125,0.25,0.375,0.5,0.625,0.75,0.875,1], "format": ".2f", "labelExpr": "round(datum.value*8) % 2 === 0 ? datum.label : ''", "gridWidth": {"condition": {"test": "round(datum.value*8) % 2 === 0", "value": 2.2}, "value": 1.1}, "tickOpacity": {"condition": {"test": "round(datum.value*8) % 2 === 0", "value": 1}, "value": 0}}},
           "color": {"field": "r", "type": "nominal", "legend": null}
         }},
        {"data": {"name": "labels"}, "transform": [{"filter": "datum.p === 'd'"}],
         "mark": {"type": "text", "align": "left", "baseline": "alphabetic", "fontSize": 27, "color": "#000000"},
         "encoding": {"x": {"field": "x", "type": "quantitative", "title": null}, "y": {"field": "y", "type": "quantitative", "title": null}, "text": {"field": "t"}}}
      ]
    },
    {
      "width": 406, "height": 306,
      "layer": [
        {"data": {"name": "lines"}, "transform": [{"filter": "datum.p === 'b'"}],
         "mark": {"type": "line", "strokeWidth": 2.5, "interpolate": "monotone"},
         "encoding": {
           "x": {"field": "h", "type": "quantitative", "scale": {"domain": [-1.12, 25.12], "nice": false, "zero": false},
                 "axis": {"title": null, "values": [0,2,4,6,8,10,12,14,16,18,20,22,24], "format": "d", "labelExpr": "datum.value % 4 === 0 ? datum.label : ''", "gridWidth": {"condition": {"test": "datum.value % 4 === 0", "value": 2.2}, "value": 1.1}, "tickOpacity": {"condition": {"test": "datum.value % 4 === 0", "value": 1}, "value": 0}}},
           "y": {"field": "v", "type": "quantitative", "scale": {"domain": [-0.175, 3.675], "nice": false, "zero": false},
                 "axis": {"title": "Retrievals (per 15 minutes)", "values": [0,0.5,1,1.5,2,2.5,3,3.5], "format": "d", "labelExpr": "datum.value % 1 === 0 ? datum.label : ''", "gridWidth": {"condition": {"test": "datum.value % 1 === 0", "value": 2.2}, "value": 1.1}, "tickOpacity": {"condition": {"test": "datum.value % 1 === 0", "value": 1}, "value": 0}}},
           "color": {"field": "r", "type": "nominal",
                     "legend": {"orient": "none", "legendX": 7, "legendY": 1133, "direction": "horizontal", "title": "Ramp", "titleOrient": "left", "titleFontSize": 29, "titleFontWeight": "normal", "titleColor": "#000000", "titlePadding": 19, "labelFontSize": 24, "labelColor": "#000000", "labelOffset": 21, "columnPadding": 19, "symbolType": "stroke", "symbolSize": 1444, "symbolStrokeWidth": 2.5, "padding": 0, "zindex": 2}}
         }},
        {"data": {"name": "labels"}, "transform": [{"filter": "datum.p === 'b'"}],
         "mark": {"type": "text", "align": "left", "baseline": "alphabetic", "fontSize": 27, "color": "#000000"},
         "encoding": {"x": {"field": "x", "type": "quantitative", "title": null}, "y": {"field": "y", "type": "quantitative", "title": "Retrievals (per 15 minutes)"}, "text": {"field": "t"}}}
      ]
    },
    {
      "width": 372, "height": 306,
      "layer": [
        {"data": {"name": "pts"}, "transform": [{"filter": "datum.p === 'e'"}],
         "mark": {"type": "circle", "size": 36, "opacity": 1},
         "encoding": {
           "x": {"field": "x", "type": "quantitative", "scale": {"domain": [-0.125, 2.625], "nice": false, "zero": false},
                 "axis": {"title": null, "values": [0,0.25,0.5,0.75,1,1.25,1.5,1.75,2,2.25,2.5], "format": ".1f", "labelExpr": "round(datum.value*4) % 2 === 0 ? datum.label : ''", "gridWidth": {"condition": {"test": "round(datum.value*4) % 2 === 0", "value": 2.2}, "value": 1.1}, "tickOpacity": {"condition": {"test": "round(datum.value*4) % 2 === 0", "value": 1}, "value": 0}}},
           "y": {"field": "y", "type": "quantitative", "scale": {"domain": [-0.05, 1.05], "nice": false, "zero": false},
                 "axis": {"title": "Standard error", "values": [0,0.125,0.25,0.375,0.5,0.625,0.75,0.875,1], "format": ".2f", "labelExpr": "round(datum.value*8) % 2 === 0 ? datum.label : ''", "gridWidth": {"condition": {"test": "round(datum.value*8) % 2 === 0", "value": 2.2}, "value": 1.1}, "tickOpacity": {"condition": {"test": "round(datum.value*8) % 2 === 0", "value": 1}, "value": 0}}},
           "color": {"field": "r", "type": "nominal", "legend": null}
         }},
        {"data": {"name": "labels"}, "transform": [{"filter": "datum.p === 'e'"}],
         "mark": {"type": "text", "align": "left", "baseline": "alphabetic", "fontSize": 27, "color": "#000000"},
         "encoding": {"x": {"field": "x", "type": "quantitative", "title": null}, "y": {"field": "y", "type": "quantitative", "title": "Standard error"}, "text": {"field": "t"}}}
      ]
    },
    {
      "width": 406, "height": 270,
      "layer": [
        {"data": {"name": "lines"}, "transform": [{"filter": "datum.p === 'c'"}],
         "mark": {"type": "line", "strokeWidth": 2.5, "interpolate": "monotone"},
         "encoding": {
           "x": {"field": "h", "type": "quantitative", "scale": {"domain": [-1.12, 25.12], "nice": false, "zero": false},
                 "axis": {"title": "Time of day (24hr)", "values": [0,2,4,6,8,10,12,14,16,18,20,22,24], "format": "d", "labelExpr": "datum.value % 4 === 0 ? datum.label : ''", "gridWidth": {"condition": {"test": "datum.value % 4 === 0", "value": 2.2}, "value": 1.1}, "tickOpacity": {"condition": {"test": "datum.value % 4 === 0", "value": 1}, "value": 0}}},
           "y": {"field": "v", "type": "quantitative", "scale": {"domain": [-0.175, 3.675], "nice": false, "zero": false},
                 "axis": {"title": null, "values": [0,0.5,1,1.5,2,2.5,3,3.5], "format": "d", "labelExpr": "datum.value % 1 === 0 ? datum.label : ''", "gridWidth": {"condition": {"test": "datum.value % 1 === 0", "value": 2.2}, "value": 1.1}, "tickOpacity": {"condition": {"test": "datum.value % 1 === 0", "value": 1}, "value": 0}}},
           "color": {"field": "r", "type": "nominal",
                     "legend": {"orient": "none", "legendX": 7, "legendY": 1133, "direction": "horizontal", "title": "Ramp", "titleOrient": "left", "titleFontSize": 29, "titleFontWeight": "normal", "titleColor": "#000000", "titlePadding": 19, "labelFontSize": 24, "labelColor": "#000000", "labelOffset": 21, "columnPadding": 19, "symbolType": "stroke", "symbolSize": 1444, "symbolStrokeWidth": 2.5, "padding": 0, "zindex": 2}}
         }},
        {"data": {"name": "labels"}, "transform": [{"filter": "datum.p === 'c'"}],
         "mark": {"type": "text", "align": "left", "baseline": "alphabetic", "fontSize": 27, "color": "#000000"},
         "encoding": {"x": {"field": "x", "type": "quantitative", "title": "Time of day (24hr)"}, "y": {"field": "y", "type": "quantitative", "title": null}, "text": {"field": "t"}}}
      ]
    },
    {
      "width": 372, "height": 270,
      "layer": [
        {"data": {"name": "pts"}, "transform": [{"filter": "datum.p === 'f'"}],
         "mark": {"type": "circle", "size": 36, "opacity": 1},
         "encoding": {
           "x": {"field": "x", "type": "quantitative", "scale": {"domain": [-0.125, 2.625], "nice": false, "zero": false},
                 "axis": {"title": "Retrievals (per 15 minutes)", "values": [0,0.25,0.5,0.75,1,1.25,1.5,1.75,2,2.25,2.5], "format": ".1f", "labelExpr": "round(datum.value*4) % 2 === 0 ? datum.label : ''", "gridWidth": {"condition": {"test": "round(datum.value*4) % 2 === 0", "value": 2.2}, "value": 1.1}, "tickOpacity": {"condition": {"test": "round(datum.value*4) % 2 === 0", "value": 1}, "value": 0}}},
           "y": {"field": "y", "type": "quantitative", "scale": {"domain": [-0.05, 1.05], "nice": false, "zero": false},
                 "axis": {"title": null, "values": [0,0.125,0.25,0.375,0.5,0.625,0.75,0.875,1], "format": ".2f", "labelExpr": "round(datum.value*8) % 2 === 0 ? datum.label : ''", "gridWidth": {"condition": {"test": "round(datum.value*8) % 2 === 0", "value": 2.2}, "value": 1.1}, "tickOpacity": {"condition": {"test": "round(datum.value*8) % 2 === 0", "value": 1}, "value": 0}}},
           "color": {"field": "r", "type": "nominal", "legend": null}
         }},
        {"data": {"name": "labels"}, "transform": [{"filter": "datum.p === 'f'"}],
         "mark": {"type": "text", "align": "left", "baseline": "alphabetic", "fontSize": 27, "color": "#000000"},
         "encoding": {"x": {"field": "x", "type": "quantitative", "title": "Retrievals (per 15 minutes)"}, "y": {"field": "y", "type": "quantitative", "title": null}, "text": {"field": "t"}}}
      ]
    }
  ]
}
